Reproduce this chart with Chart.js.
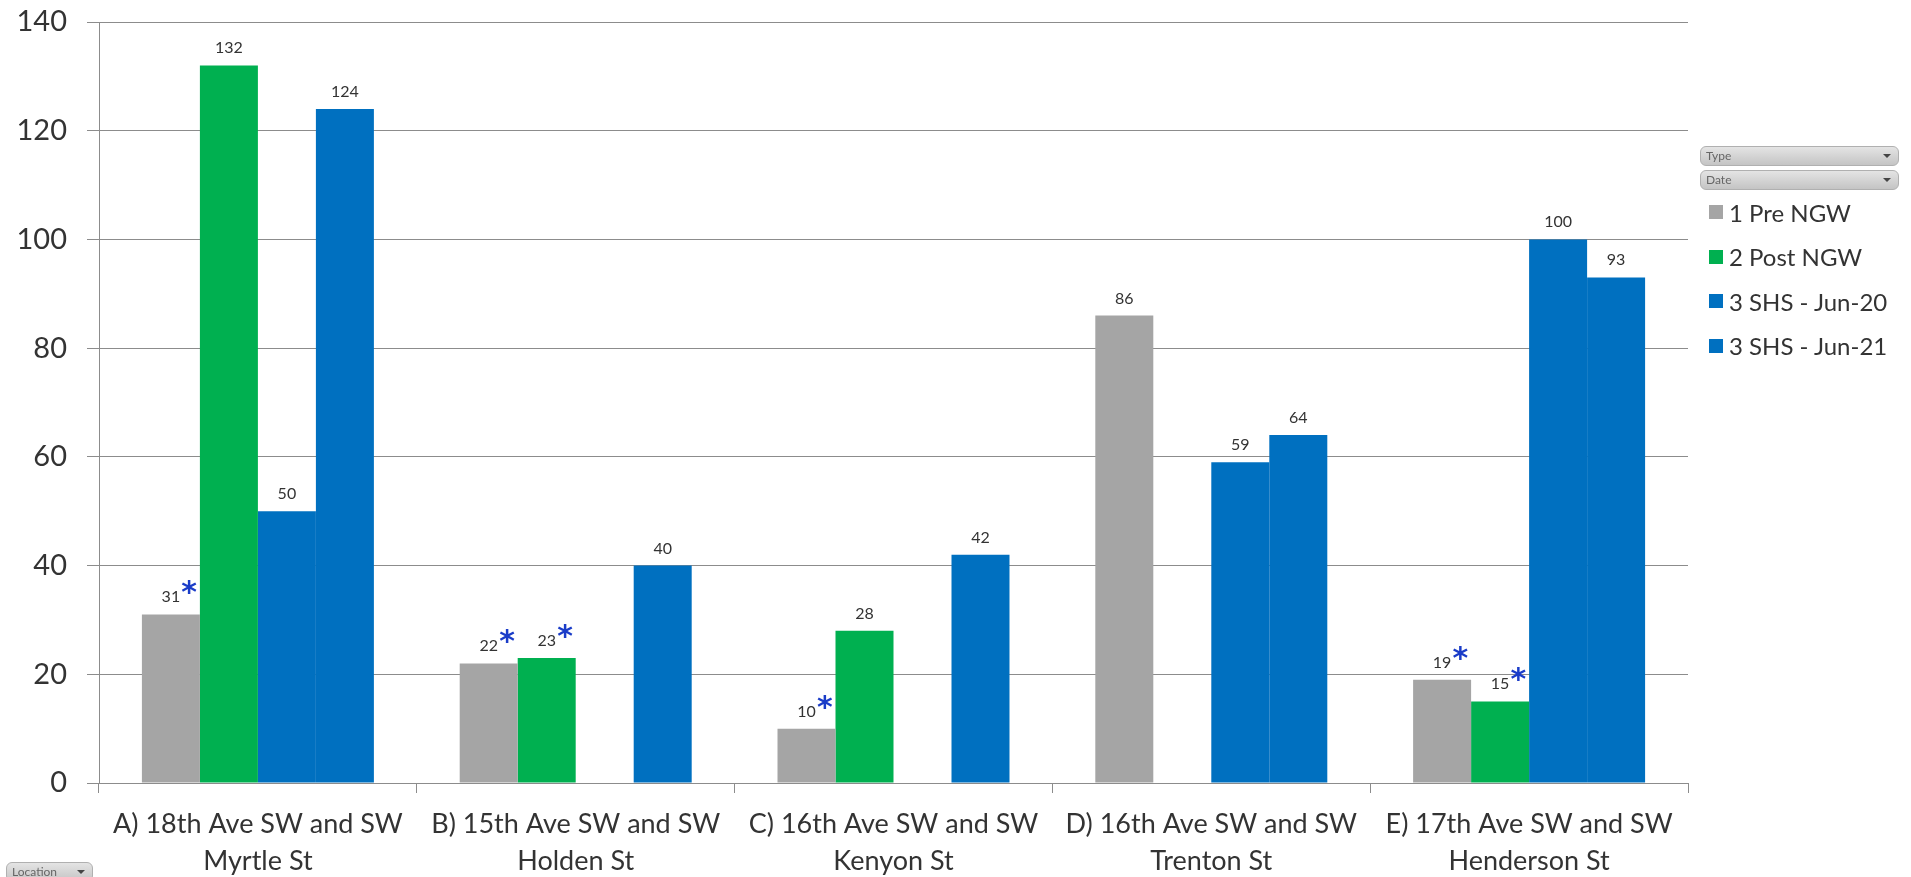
<!DOCTYPE html>
<html>
<head>
<meta charset="utf-8">
<script src="https://cdn.jsdelivr.net/npm/chart.js@4.4.1/dist/chart.umd.min.js"></script>
<style>
  html, body { margin: 0; padding: 0; background: #fff; }
  #wrap { position: relative; width: 1911px; height: 877px; overflow: hidden; font-family: Lato, "Open Sans", sans-serif; }
  #chart { position: absolute; left: 0; top: 0; }
  .filter {
    position: absolute; height: 20px; border-radius: 6px;
    background: linear-gradient(#e4e4e4, #c4c4c4);
    border: 1px solid #b0b0b0; box-sizing: border-box;
    font-size: 12px; color: #666; line-height: 18px; padding-left: 5px;
  }
  .filter::after {
    content: ""; position: absolute; right: 7px; top: 7px;
    border-left: 4px solid transparent; border-right: 4px solid transparent;
    border-top: 4px solid #444;
  }
  #legend { position: absolute; left: 1709px; top: 190px; }
  .item { height: 44.5px; display: flex; align-items: center; font-size: 24px; color: #333; white-space: nowrap; }
  .swatch { width: 14px; height: 14px; margin-right: 6px; }
</style>
</head>
<body>
<div id="wrap">
  <canvas id="chart" width="1911" height="877"></canvas>
  <div class="filter" style="left:1700px; top:146px; width:199px;">Type</div>
  <div class="filter" style="left:1700px; top:170px; width:199px;">Date</div>
  <div id="legend"></div>
  <div class="filter" style="left:6px; top:862px; width:87px;">Location</div>
</div>
<script>
// Locations (two-line axis labels)
const locations = [
  ["A) 18th Ave SW and SW", "Myrtle St"],
  ["B) 15th Ave SW and SW", "Holden St"],
  ["C) 16th Ave SW and SW", "Kenyon St"],
  ["D) 16th Ave SW and SW", "Trenton St"],
  ["E) 17th Ave SW and SW", "Henderson St"]
];

// Series values (null = no count for that location)
const preNGW   = [31, 22, 10, 86, 19];
const postNGW  = [132, 23, 28, null, 15];
const shsJun20 = [50, null, null, 59, 100];
const shsJun21 = [124, 40, 42, 64, 93];

// Counts marked with an asterisk
const preNGWFlag   = [true, true, true, false, true];
const postNGWFlag  = [false, true, false, false, true];
const shsJun20Flag = [false, false, false, false, false];
const shsJun21Flag = [false, false, false, false, false];

const seriesNames  = ["1 Pre NGW", "2 Post NGW", "3 SHS - Jun-20", "3 SHS - Jun-21"];
const seriesColors = ["#a5a5a5", "#00b050", "#0070c0", "#0070c0"];

const yTicks = [0, 20, 40, 60, 80, 100, 120, 140];

const seriesValues = [preNGW, postNGW, shsJun20, shsJun21];
const seriesFlags  = [preNGWFlag, postNGWFlag, shsJun20Flag, shsJun21Flag];

const FONT = "Lato, 'Open Sans', sans-serif";
Chart.defaults.font.family = FONT;
Chart.defaults.color = "#333";

// Value labels above each bar, with an optional blue asterisk
const valueLabels = {
  id: "valueLabels",
  afterDatasetsDraw(chart) {
    const ctx = chart.ctx;
    ctx.save();
    chart.data.datasets.forEach((ds, di) => {
      const meta = chart.getDatasetMeta(di);
      meta.data.forEach((bar, i) => {
        const v = ds.data[i];
        if (v === null || v === undefined) return;
        const text = String(v);
        ctx.font = "16px " + FONT;
        ctx.fillStyle = "#333";
        ctx.textAlign = "center";
        ctx.textBaseline = "alphabetic";
        ctx.fillText(text, bar.x, bar.y - 12);
        if (seriesFlags[di][i]) {
          const w = ctx.measureText(text).width;
          ctx.font = "bold 30px 'DejaVu Sans', sans-serif";
          ctx.fillStyle = "#1a3cc8";
          ctx.fillText("*", bar.x + w / 2 + 9, bar.y - 12);
        }
      });
    });
    ctx.restore();
  }
};

const chart = new Chart(document.getElementById("chart"), {
  type: "bar",
  data: {
    labels: locations,
    datasets: seriesNames.map((name, k) => ({
      label: name,
      data: seriesValues[k],
      backgroundColor: seriesColors[k],
      borderWidth: 0,
      barPercentage: 1.0,
      categoryPercentage: 0.73
    }))
  },
  options: {
    responsive: false,
    animation: false,
    layout: { padding: { left: 0, right: 223, top: 22, bottom: 0 } },
    plugins: { legend: { display: false }, tooltip: { enabled: false } },
    scales: {
      x: {
        grid: { offset: true, drawOnChartArea: false, drawTicks: true, tickLength: 10, color: "#8c8c8c" },
        border: { color: "#8c8c8c" },
        ticks: { font: { size: 27, lineHeight: 1.37 }, color: "#333", padding: 13, maxRotation: 0, autoSkip: false },
        afterFit(scale) { scale.height = 94; }
      },
      y: {
        min: 0, max: 140,
        afterBuildTicks(scale) { scale.ticks = yTicks.map(v => ({ value: v })); },
        grid: { color: "#8c8c8c", tickLength: 12 },
        border: { color: "#8c8c8c" },
        // single-line labels: a small line height keeps the plot top at the layout padding
        ticks: { font: { size: 29, lineHeight: 0.05 }, color: "#333", padding: 20 },
        afterFit(scale) { scale.width = 99; }
      }
    }
  },
  plugins: [valueLabels]
});

// Legend built from the series definitions
const legend = document.getElementById("legend");
seriesNames.forEach((name, k) => {
  const item = document.createElement("div");
  item.className = "item";
  const sw = document.createElement("span");
  sw.className = "swatch";
  sw.style.background = seriesColors[k];
  item.appendChild(sw);
  item.appendChild(document.createTextNode(name));
  legend.appendChild(item);
});
</script>
</body>
</html>
